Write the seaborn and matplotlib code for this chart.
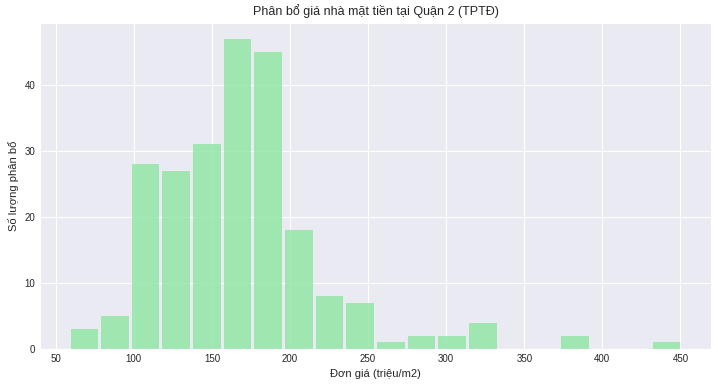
import numpy as np
import pandas as pd
import matplotlib
matplotlib.use("Agg")
import matplotlib.pyplot as plt
import seaborn as sns

# Data
bin_min = 58.5
bin_max = 451.0
n_bins = 20
counts = [3, 5, 28, 27, 31, 47, 45, 18, 8, 7, 1, 2, 2, 4, 0, 0, 2, 0, 0, 1]

title = "Phân bổ giá nhà mặt tiền tại Quận 2 (TPTĐ)"
xlabel = "Đơn giá (triệu/m2)"
ylabel = "Số lượng phân bổ"

edges = np.linspace(bin_min, bin_max, n_bins + 1)
centers = (edges[:-1] + edges[1:]) / 2
df = pd.DataFrame({"price": centers, "count": counts})

sns.set_style("darkgrid")
plt.rcParams["font.family"] = ["Liberation Sans", "DejaVu Sans"]

fig = plt.figure(figsize=(7.18, 3.86), dpi=100)
ax = fig.add_axes([40 / 718, 1 - 349 / 386, 671 / 718, 326 / 386])

sns.histplot(data=df, x="price", weights="count", bins=list(edges), shrink=0.9,
             color="#8de5a1", alpha=0.8, linewidth=0, ax=ax)

ax.set_title(title, fontsize=9, color="#262626")
ax.set_xlabel(xlabel, fontsize=8, color="#262626")
ax.set_ylabel(ylabel, fontsize=8, color="#262626")
ax.tick_params(axis="both", labelsize=7, colors="#262626", length=0)
ax.set_xticks([50, 100, 150, 200, 250, 300, 350, 400, 450])
ax.set_yticks([0, 10, 20, 30, 40])

fig.savefig("out.png", dpi=100)
